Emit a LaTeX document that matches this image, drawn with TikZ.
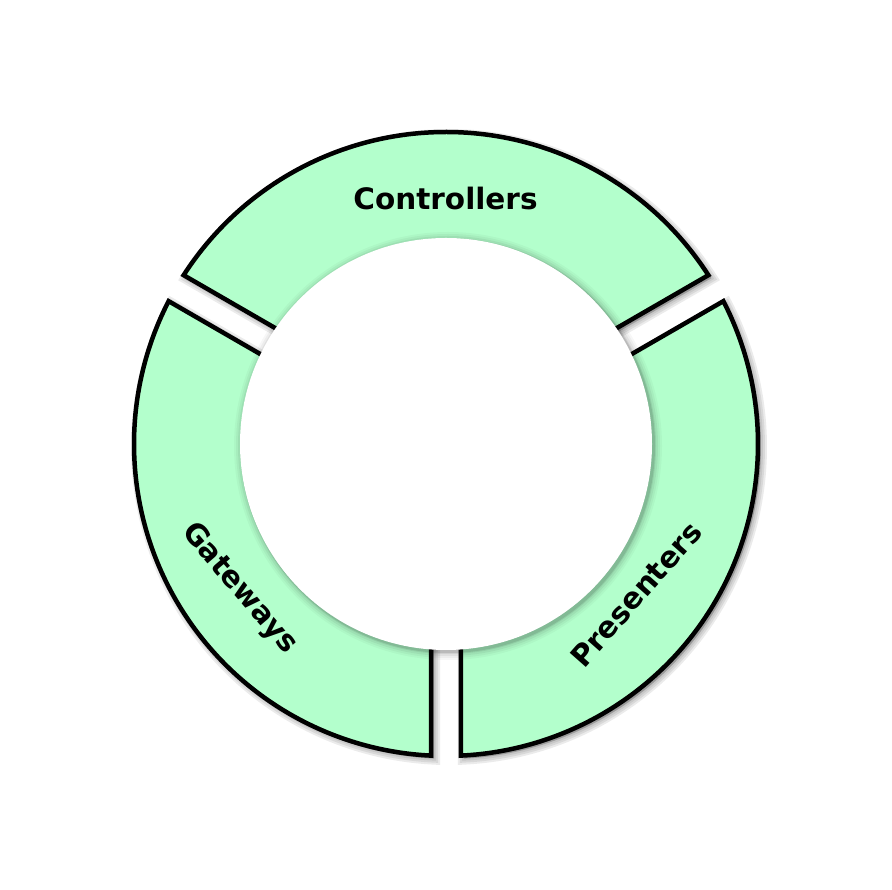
\documentclass[tikz,border=0pt]{standalone}
\usepackage{fontspec}
\setmainfont{DejaVu Sans}
\definecolor{segfill}{HTML}{B3FFCC}
\newcommand\segshape[3]{%
  \pgfmathsetmacro\aA{#1+2.755}\pgfmathsetmacro\aB{#2-2.755}%
  \pgfmathsetmacro\aC{#2-5.06}\pgfmathsetmacro\aD{#1+5.06}%
  \path[#3] (\aA:312pt) arc[start angle=\aA, end angle=\aB, radius=312pt]
    -- (\aC:170pt) arc[start angle=\aC, end angle=\aD, radius=170pt] -- cycle;}
\begin{document}
\begin{tikzpicture}[x=1pt,y=1pt,
  seg/.style={fill=segfill, draw=black, line width=4.5pt},
  segshadow/.style={shift={(3,-3)}, draw=black, draw opacity=0.08, fill=black, fill opacity=0.08, line width=#1},
  lbl/.style={font=\bfseries\fontsize{29.5}{35}\selectfont, inner sep=0pt, text height=22.4pt, text depth=0pt}]
\useasboundingbox (0,0) rectangle (892,890);
\fill[white] (0,0) rectangle (892,890);
\begin{scope}[shift={(446,446)}]
  % segment shadows
  \foreach \w in {12pt,8pt,4pt}{
    \segshape{30}{150}{segshadow=\w}
    \segshape{150}{270}{segshadow=\w}
    \segshape{-90}{30}{segshadow=\w}
  }
  % segments
  \segshape{30}{150}{seg}
  \segshape{150}{270}{seg}
  \segshape{-90}{30}{seg}
  % inner circle shadow
  \foreach \r/\o in {214/0.03,212/0.04,210/0.05,208/0.07,207/0.1}{
    \fill[black, opacity=\o] (2,-2) circle[radius=\r pt];
  }
  \fill[white] (0,0) coordinate (ctr) circle[radius=206pt];
\end{scope}
\node[lbl] (controllers) at (445.5,691.8) {Controllers};
\node[lbl, rotate=-49.5] (gateways) at (242,303.5) {Gateways};
\node[lbl, rotate=48.6] (presenters) at (635.5,296) {Presenters};
\end{tikzpicture}
\end{document}
